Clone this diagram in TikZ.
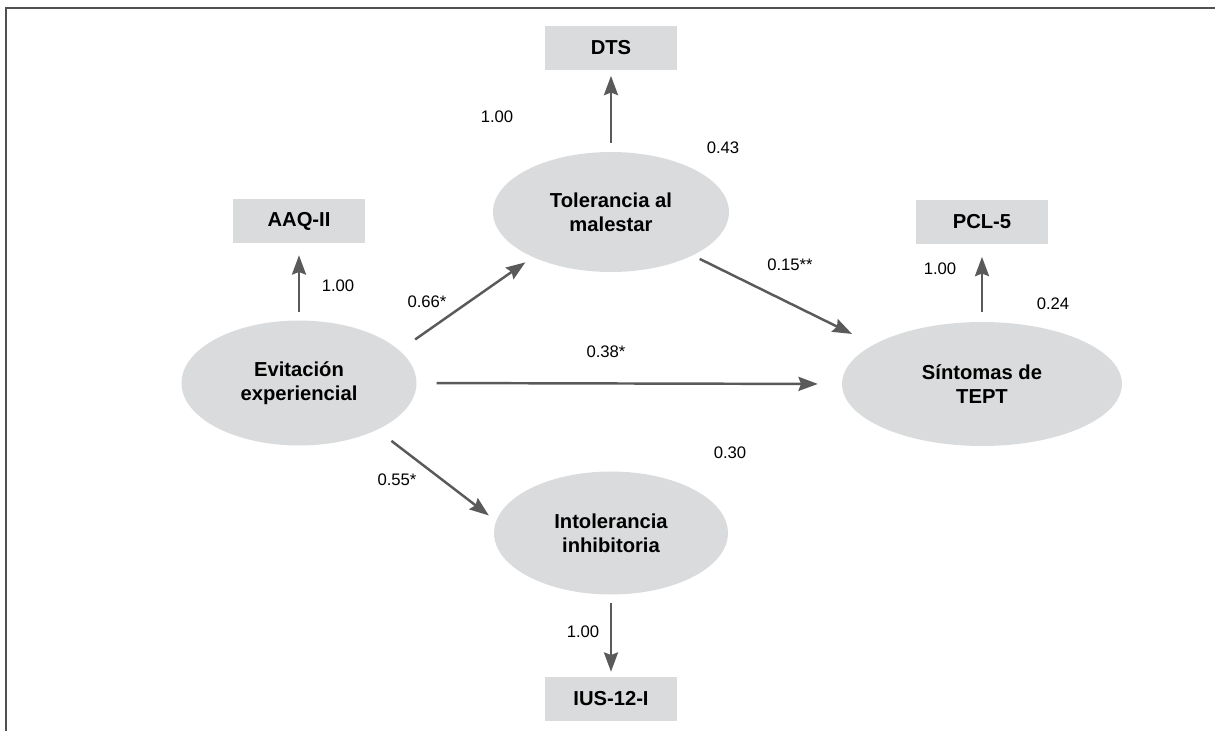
\documentclass[tikz,border=0pt]{standalone}
\usepackage{fontspec}
\setmainfont{Liberation Sans}
\usetikzlibrary{shapes.geometric,arrows.meta}
\definecolor{boxgray}{HTML}{DADBDC}
\definecolor{pathgray}{HTML}{5A5A5A}
\definecolor{framegray}{HTML}{505050}
\tikzset{
  latent/.style={ellipse,fill=boxgray,inner sep=0pt,align=center,
    font=\fontsize{11.5}{13.9}\selectfont\bfseries},
  indicator/.style={rectangle,fill=boxgray,inner sep=0pt,
    minimum width=2.64cm,minimum height=0.88cm,
    font=\fontsize{11.5}{13.9}\selectfont\bfseries},
  effect/.style={-{Stealth[length=11pt,width=8pt,inset=1.5pt]},
    draw=pathgray,line width=1.4pt},
  coef/.style={font=\fontsize{9.5}{11}\selectfont}
}

\begin{document}
\begin{tikzpicture}[x=0.02cm,y=-0.02cm]
\useasboundingbox (0,0) rectangle (1215,731);
\draw[color=framegray,line width=1.1pt] (6,731)--(6,8)--(1215,8);

\node[latent,minimum width=4.7cm,minimum height=2.5cm] (ev) at (299,383) {Evitación\\experiencial};
\node[latent,minimum width=4.72cm,minimum height=2.4cm] (tol) at (611,212) {Tolerancia al\\malestar};
\node[latent,minimum width=5.6cm,minimum height=2.48cm] (sin) at (982,384) {Síntomas de\\TEPT};
\node[latent,minimum width=4.68cm,minimum height=2.46cm] (int) at (611,533) {Intolerancia\\inhibitoria};

\node[indicator] (dts) at (611,47.5) {DTS};
\node[indicator] (aaq) at (299,221) {AAQ-II};
\node[indicator] (pcl) at (982,221.5) {PCL-5};
\node[indicator] (ius) at (611,699) {IUS-12-I};

\draw[effect,shorten <=5.1pt,shorten >=3.4pt] (tol.north)--(dts.south);
\draw[effect,shorten <=4.5pt,shorten >=6.8pt] (ev.north)--(aaq.south);
\draw[effect,shorten <=5.7pt,shorten >=7.4pt] (sin.north)--(pcl.south);
\draw[effect,shorten <=4.5pt,shorten >=2.8pt] (int.south)--(ius.north);

\draw[effect,shorten <=11.3pt,shorten >=13.6pt] (ev.east)--(sin.west);
\draw[effect,shorten <=10.8pt,shorten >=5.1pt] (ev.18)--(tol.210);
\draw[effect,shorten <=4.3pt,shorten >=13.6pt] (tol.-28)--(sin.160);
\draw[effect,shorten <=10.2pt,shorten >=5.1pt] (ev.-31)--(int.174);

\node[coef] (l-dts) at (497,117) {1.00};
\node[coef] (r-tol) at (723,148) {0.43};
\node[coef] (l-aaq) at (338,286) {1.00};
\node[coef] (b-ev-tol) at (427,302) {0.66*};
\node[coef] (b-ev-sin) at (606,352) {0.38*};
\node[coef] (b-tol-sin) at (790,265) {0.15**};
\node[coef] (l-pcl) at (940,269) {1.00};
\node[coef] (r-sin) at (1053,304) {0.24};
\node[coef] (b-ev-int) at (397,480) {0.55*};
\node[coef] (r-int) at (730,453) {0.30};
\node[coef] (l-ius) at (583,632) {1.00};
\end{tikzpicture}
\end{document}
